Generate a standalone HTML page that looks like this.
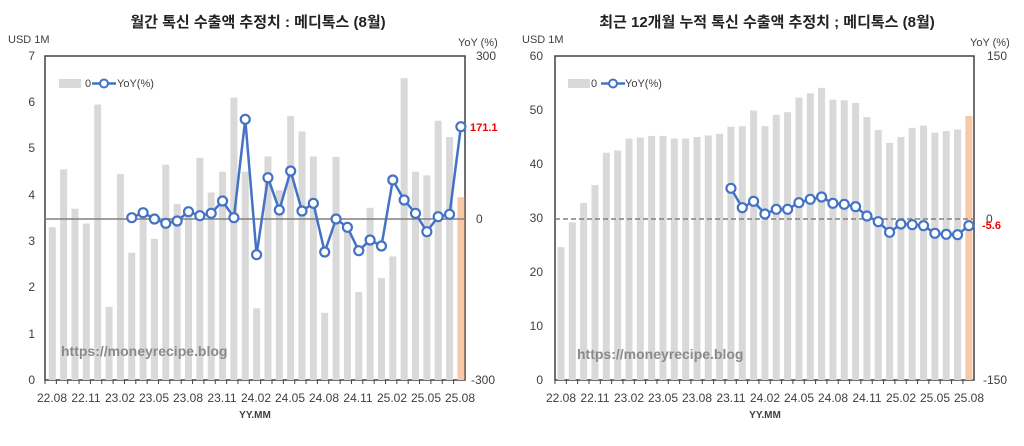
<!DOCTYPE html>
<html><head><meta charset="utf-8"><style>
body{margin:0;background:#fff;}
svg text{font-family:"Liberation Sans","Noto Sans CJK KR",sans-serif;fill:#404040;font-size:12px;}
</style></head><body>
<svg id="s" width="1024" height="441" xmlns="http://www.w3.org/2000/svg">
<rect width="1024" height="441" fill="#fff"/>
<g id="g"></g>
<text x="258" y="27" text-anchor="middle" style="font-size:15px;font-weight:bold;fill:#222">월간 톡신 수출액 추정치 : 메디톡스 (8월)</text>
<text x="8" y="43" style="font-size:11px">USD 1M</text>
<text x="458" y="46" style="font-size:11px">YoY (%)</text>
<g text-anchor="end">
<text x="35" y="384">0</text><text x="35" y="338">1</text><text x="35" y="291">2</text><text x="35" y="245">3</text>
<text x="35" y="199">4</text><text x="35" y="152">5</text><text x="35" y="106">6</text><text x="35" y="60">7</text>
</g>
<text x="476" y="60">300</text><text x="476" y="223">0</text><text x="471" y="384">-300</text>
<text x="470" y="131" style="font-size:11px;font-weight:bold;fill:#e00">171.1</text>
<text x="85" y="87" style="font-size:11px">0</text><text x="117" y="87" style="font-size:11px">YoY(%)</text>
<text x="61" y="356" style="font-size:14px;font-weight:bold;fill:#8a8a8a">https://moneyrecipe.blog</text>
<g text-anchor="middle" style="font-size:11px">
<text x="52" y="402">22.08</text><text x="86" y="402">22.11</text><text x="120" y="402">23.02</text><text x="154" y="402">23.05</text><text x="188" y="402">23.08</text><text x="222" y="402">23.11</text><text x="256" y="402">24.02</text><text x="290" y="402">24.05</text><text x="324" y="402">24.08</text><text x="358" y="402">24.11</text><text x="392" y="402">25.02</text><text x="426" y="402">25.05</text><text x="460" y="402">25.08</text>
</g>
<text x="255" y="418" text-anchor="middle" style="font-size:10px;font-weight:bold">YY.MM</text>
<text x="767" y="27" text-anchor="middle" style="font-size:15px;font-weight:bold;fill:#222">최근 12개월 누적 톡신 수출액 추정치 ; 메디톡스 (8월)</text>
<text x="522" y="43" style="font-size:11px">USD 1M</text>
<text x="970" y="46" style="font-size:11px">YoY (%)</text>
<g text-anchor="end">
<text x="543" y="384">0</text><text x="543" y="330">10</text><text x="543" y="276">20</text><text x="543" y="222">30</text>
<text x="543" y="168">40</text><text x="543" y="114">50</text><text x="543" y="60">60</text>
</g>
<text x="987" y="60">150</text><text x="986" y="223">0</text><text x="983" y="384">-150</text>
<text x="982" y="229" style="font-size:11px;font-weight:bold;fill:#e00">-5.6</text>
<text x="591" y="87" style="font-size:11px">0</text><text x="625" y="87" style="font-size:11px">YoY(%)</text>
<text x="577" y="359" style="font-size:14px;font-weight:bold;fill:#8a8a8a">https://moneyrecipe.blog</text>
<g text-anchor="middle" style="font-size:11px">
<text x="561" y="402">22.08</text><text x="595" y="402">22.11</text><text x="629" y="402">23.02</text><text x="663" y="402">23.05</text><text x="697" y="402">23.08</text><text x="731" y="402">23.11</text><text x="765" y="402">24.02</text><text x="799" y="402">24.05</text><text x="833" y="402">24.08</text><text x="867" y="402">24.11</text><text x="901" y="402">25.02</text><text x="935" y="402">25.05</text><text x="969" y="402">25.08</text>
</g>
<text x="765" y="418" text-anchor="middle" style="font-size:10px;font-weight:bold">YY.MM</text>
</svg>
<script>
var NS="http://www.w3.org/2000/svg",g=document.getElementById("g");
function el(t,a){var e=document.createElementNS(NS,t);for(var k in a)e.setAttribute(k,a[k]);g.appendChild(e);return e;}
function chart(o){
 el("rect",{x:o.x0,y:56,width:o.x1-o.x0,height:324,fill:"none",stroke:"#404040","stroke-width":1.5});
 for(var i=0;i<o.bars.length;i++){
  var cx=o.b0+i*o.dx,h=o.bars[i]*o.sc;
  el("rect",{x:cx-3.5,y:380-h,width:7,height:h,fill:i==o.bars.length-1?"#f8c8a8":"#d9d9d9"});
  el("line",{x1:o.x0+i*o.dx,y1:380,x2:o.x0+i*o.dx,y2:384,stroke:"#404040"});
 }
 var za={x1:o.x0,y1:219,x2:o.x1,y2:219,stroke:"#808080","stroke-width":1.5};
 if(o.dash)za["stroke-dasharray"]="5,3";
 el("line",za);
 var pts=o.yoy.map(function(v,j){return [o.b0+(o.s+j)*o.dx,40+v/3];});
 el("polyline",{points:pts.map(function(p){return p.join(",")}).join(" "),fill:"none",stroke:"#4472c4","stroke-width":2.5});
 pts.forEach(function(p){el("circle",{cx:p[0],cy:p[1],r:4.5,fill:"#fff",stroke:"#4472c4","stroke-width":2.2});});
 el("rect",{x:o.lx,y:79,width:22,height:9,fill:"#d9d9d9"});
 el("line",{x1:o.lx+33,y1:83.5,x2:o.lx+57,y2:83.5,stroke:"#4472c4","stroke-width":2.5});
 el("circle",{cx:o.lx+45,cy:83.5,r:4,fill:"#fff",stroke:"#4472c4","stroke-width":2});
}
chart({x0:45,x1:465,b0:52.3,dx:11.35,sc:46.29,s:7,lx:59,
 bars:[3.3,4.55,3.7,3.38,5.95,1.58,4.45,2.75,3.6,3.05,4.65,3.8,3.6,4.8,4.05,4.5,6.1,4.5,1.55,4.83,4.1,5.7,5.37,4.83,1.45,4.82,3.3,1.9,3.72,2.2,2.67,6.52,4.5,4.42,5.6,5.25,3.95],
 yoy:[533,518,537,550,543,515,527,520,483,533,238,644,413,510,393,513,490,636,537,562,632,600,618,420,480,520,575,530,523,260]});
chart({x0:555,x1:974,b0:561,dx:11.33,sc:5.4,s:15,lx:568,dash:1,
 bars:[24.6,29.2,32.8,36.1,42.1,42.5,44.7,44.9,45.2,45.2,44.7,44.7,45.0,45.3,45.6,46.9,47.0,49.9,47.0,49.1,49.6,52.3,53.1,54.1,51.9,51.8,51.3,48.7,46.3,43.9,45.0,46.7,47.1,45.8,46.1,46.4,48.9],
 yoy:[445,503,484,522,508,508,488,478,471,490,493,500,528,545,577,552,554,557,580,583,584,557]});
</script>
</body></html>
